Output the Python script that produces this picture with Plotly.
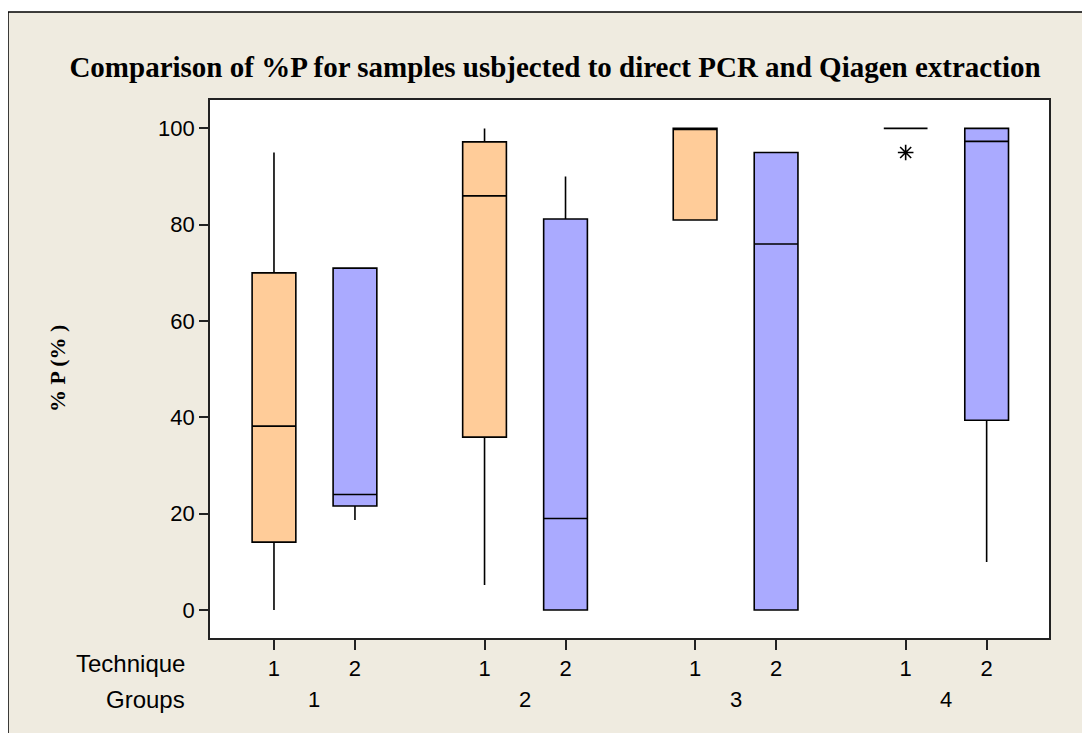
import plotly.graph_objects as go

# ---------------- data ----------------
groups = ["1", "2", "3", "4"]
techniques = ["1", "2"]
box_group = [1, 1, 2, 2, 3, 3, 4, 4]
box_technique = [1, 2, 1, 2, 1, 2, 1, 2]
lower_whisker = [0.0, 18.7, 5.2, 0.0, 81.0, 0.0, 100.0, 10.0]
q1 = [14.1, 21.6, 35.9, 0.0, 81.0, 0.0, 100.0, 39.4]
median = [38.2, 24.0, 86.0, 19.0, 100.0, 76.0, 100.0, 97.3]
q3 = [70.0, 71.0, 97.2, 81.2, 100.0, 95.0, 100.0, 100.0]
upper_whisker = [95.0, 71.0, 100.0, 90.0, 100.0, 95.0, 100.0, 100.0]
outlier_group = [4]
outlier_technique = [1]
outlier_value = [95.0]

title_text = "Comparison of %P for samples usbjected to direct PCR and Qiagen extraction"
y_title = "% P (% )"
y_ticks = [0, 20, 40, 60, 80, 100]
row_labels = ["Technique", "Groups"]

# ---------------- style ----------------
OFF = 8  # page body margin; positions below are given in window pixels
W, H = 1090, 733
PLOT_L, PLOT_R, PLOT_T, PLOT_B = 210, 1049, 100, 638  # window pixels
L = PLOT_L - OFF
R = W - (PLOT_R - OFF)
T = PLOT_T - OFF
B = H - (PLOT_B - OFF)
GROUP_STEP = 2.6
colors = {1: "#FFCC99", 2: "#AAAAFF"}
SANS = "Liberation Sans, Arial, sans-serif"
SERIF = "Liberation Serif, Times New Roman, serif"


def pos(g, t):
    return (g - 1) * GROUP_STEP + (t - 1)


def xp(px):
    return (px - PLOT_L) / (PLOT_R - PLOT_L)


def yp(py):
    return (PLOT_B - py) / (PLOT_B - PLOT_T)


fig = go.Figure()
for i in range(len(q1)):
    g, t = box_group[i], box_technique[i]
    fig.add_trace(go.Box(
        x=[pos(g, t)],
        q1=[q1[i]], median=[median[i]], q3=[q3[i]],
        lowerfence=[lower_whisker[i]], upperfence=[upper_whisker[i]],
        width=0.54, whiskerwidth=0,
        fillcolor=colors[t],
        line=dict(color="black", width=1.6),
        boxpoints=False, showlegend=False,
    ))

fig.add_trace(go.Scatter(
    x=[pos(g, t) for g, t in zip(outlier_group, outlier_technique)],
    y=outlier_value, mode="markers",
    marker=dict(symbol="asterisk-open", size=13, color="black",
                line=dict(color="black", width=1.6)),
    showlegend=False,
))

tickvals = [pos(int(g), int(t)) for g in groups for t in techniques]
ticktext = [t for g in groups for t in techniques]

annotations = [
    dict(text=row_labels[0], xref="paper", yref="paper", x=xp(187), y=yp(663),
         xanchor="right", yanchor="middle", showarrow=False,
         font=dict(family=SANS, size=24, color="black")),
    dict(text=row_labels[1], xref="paper", yref="paper", x=xp(187), y=yp(699),
         xanchor="right", yanchor="middle", showarrow=False,
         font=dict(family=SANS, size=24, color="black")),
    dict(text="<b>" + y_title + "</b>", xref="paper", yref="paper", x=xp(57), y=yp(369),
         xanchor="center", yanchor="middle", showarrow=False, textangle=-90,
         font=dict(family=SERIF, size=22, color="black")),
]
for g in groups:
    annotations.append(dict(
        text=g, xref="x", yref="paper", x=pos(int(g), 1) + 0.5, y=yp(699),
        xanchor="center", yanchor="middle", showarrow=False,
        font=dict(family=SANS, size=22, color="black")))

shapes = [
    dict(type="rect", xref="paper", yref="paper", x0=xp(-20), x1=xp(W + 20),
         y0=yp(12), y1=yp(-20), fillcolor="white", line=dict(width=0), layer="below"),
    dict(type="rect", xref="paper", yref="paper", x0=xp(-20), x1=xp(8),
         y0=yp(H + 20), y1=yp(-20), fillcolor="white", line=dict(width=0), layer="below"),
    dict(type="rect", xref="paper", yref="paper", x0=xp(1083), x1=xp(W + 20),
         y0=yp(H + 20), y1=yp(-20), fillcolor="white", line=dict(width=0), layer="below"),
    dict(type="rect", xref="paper", yref="paper", x0=xp(8), x1=xp(1083),
         y0=yp(H + 20), y1=yp(12), line=dict(color="black", width=1.5)),
]

axis_common = dict(
    showline=True, mirror=True, linecolor="#222222", linewidth=1.6,
    showgrid=False, zeroline=False, ticks="outside", tickcolor="#222222",
    tickwidth=1.5, tickfont=dict(family=SANS, size=22, color="black"),
)

fig.update_layout(
    width=W, height=H,
    margin=dict(l=L, r=R, t=T, b=B),
    paper_bgcolor="#EFEBE0", plot_bgcolor="white",
    title=dict(text="<b>" + title_text + "</b>", xref="container", yref="container",
               x=(555 - OFF) / W, y=1 - (67 - OFF) / H, xanchor="center", yanchor="middle",
               font=dict(family=SERIF, size=29, color="black")),
    xaxis=dict(range=[-0.79, 9.57], tickvals=tickvals, ticktext=ticktext,
               ticklen=10, **axis_common),
    yaxis=dict(range=[-5.8, 105.9], tickvals=y_ticks, ticklen=9, **axis_common),
    annotations=annotations, shapes=shapes,
)

fig.write_html("out.html")
